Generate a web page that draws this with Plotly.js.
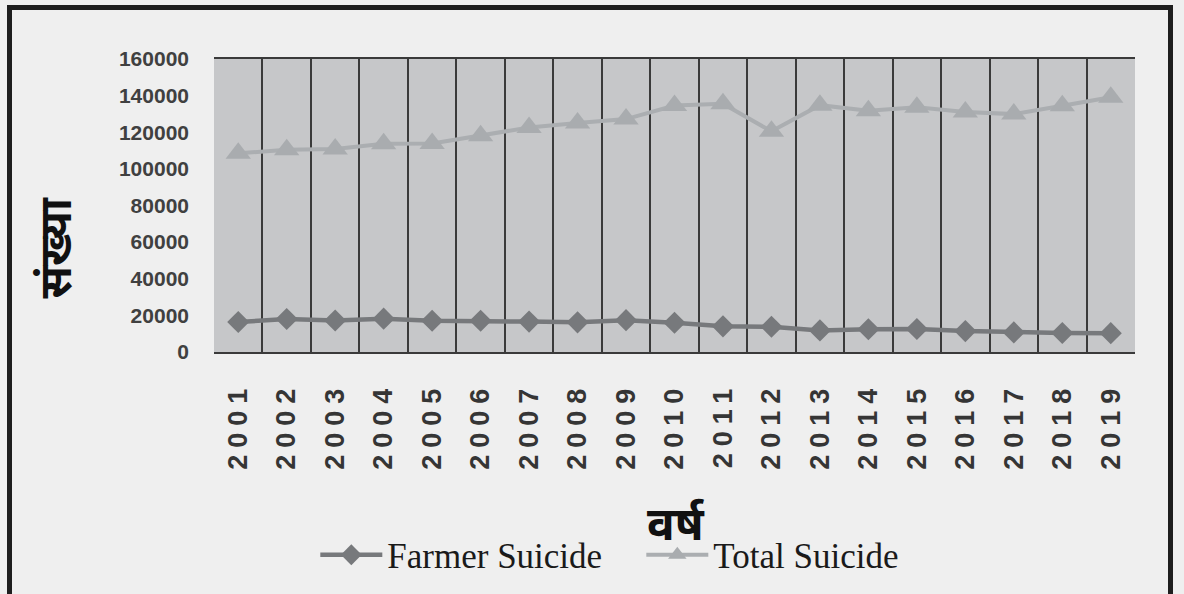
<!DOCTYPE html>
<html>
<head>
<meta charset="utf-8">
<script src="https://cdn.plot.ly/plotly-3.0.1.min.js"></script>
<style>
  html, body { margin: 0; padding: 0; background: #efefef; width: 1184px; height: 594px; overflow: hidden; }
  #frame { position: absolute; left: 7px; top: 5px; width: 1156px; height: 594px;
           border-left: 5px solid #1e1e1e; border-top: 5px solid #1e1e1e; border-right: 5px solid #1e1e1e; }
  #chart { width: 1156px; height: 584px; }
  .xtick text { letter-spacing: 7px; }
</style>
</head>
<body>
<div id="frame"><div id="chart"></div></div>
<script>
const years = [2001, 2002, 2003, 2004, 2005, 2006, 2007, 2008, 2009, 2010,
               2011, 2012, 2013, 2014, 2015, 2016, 2017, 2018, 2019];
const yearLabels = years.map(String);
const farmerSuicide = [16400, 18000, 17200, 18200, 17100, 17100, 16600, 16200, 17400, 16000,
                       14000, 13800, 11800, 12400, 12600, 11400, 10700, 10400, 10300];
const totalSuicide = [108500, 110400, 110900, 113700, 113900, 118100, 122600, 125000, 127200, 134600,
                      135600, 120500, 134800, 131700, 133600, 131000, 129900, 134500, 139100];
const yTicks = [0, 20000, 40000, 60000, 80000, 100000, 120000, 140000, 160000];

const traces = [
  {
    x: years, y: farmerSuicide, name: 'Farmer Suicide', type: 'scatter', mode: 'lines+markers',
    line: { color: '#77797c', width: 4.5 },
    marker: { symbol: 'diamond', size: 17, color: '#77797c' }
  },
  {
    x: years, y: totalSuicide, name: 'Total Suicide', type: 'scatter', mode: 'lines+markers',
    line: { color: '#abaeb1', width: 4 },
    marker: { symbol: 'triangle-up', size: 22, color: '#a9acaf' }
  }
];

const layout = {
  width: 1156, height: 584,
  margin: { l: 202, r: 33, t: 49, b: 241 },
  paper_bgcolor: '#efefef',
  plot_bgcolor: '#c6c7c9',
  showlegend: true,
  xaxis: {
    range: [2000.5, 2019.5],
    tickvals: years, ticktext: yearLabels,
    tickangle: -90,
    ticks: '', showgrid: false, zeroline: false,
    showline: true, mirror: true, linecolor: '#3a3a3a', linewidth: 2,
    minor: { tick0: 2000.5, dtick: 1, showgrid: true, gridcolor: '#3a3a3a', gridwidth: 2, ticks: '' },
    ticklabelstandoff: 17,
    tickfont: { family: 'Liberation Sans, Arial, sans-serif', size: 27, color: '#353535', weight: 'bold' }
  },
  yaxis: {
    range: [0, 160000],
    tickvals: yTicks, tickformat: 'd',
    ticks: '', showgrid: false, zeroline: false, showline: false,
    ticklabelstandoff: 24,
    tickfont: { family: 'Liberation Sans, Arial, sans-serif', size: 21, color: '#404040', weight: 'bold' }
  },
  legend: {
    orientation: 'h', x: 0.11, xanchor: 'left', y: -0.687, yanchor: 'middle',
    bgcolor: 'rgba(0,0,0,0)', itemwidth: 62, entrywidth: 249, entrywidthmode: 'pixels',
    font: { family: 'Liberation Serif, Times New Roman, serif', size: 35, color: '#1a1a1a' }
  },
  annotations: [
    {
      text: 'वर्ष', xref: 'paper', yref: 'paper', x: 0.5016, y: -0.602,
      xanchor: 'center', yanchor: 'middle', showarrow: false,
      font: { family: 'Noto Sans Devanagari, Lohit Devanagari, Noto Sans, sans-serif', size: 46, color: '#111111', weight: 'bold' }
    },
    {
      text: 'संख्या', xref: 'paper', yref: 'paper', x: -0.167, y: 0.357,
      xanchor: 'center', yanchor: 'middle', showarrow: false, textangle: -90,
      font: { family: 'Noto Sans Devanagari, Lohit Devanagari, Noto Sans, sans-serif', size: 44, color: '#111111', weight: 'bold' }
    }
  ]
};

Plotly.newPlot('chart', traces, layout, { displayModeBar: false, staticPlot: true });
</script>
</body>
</html>
